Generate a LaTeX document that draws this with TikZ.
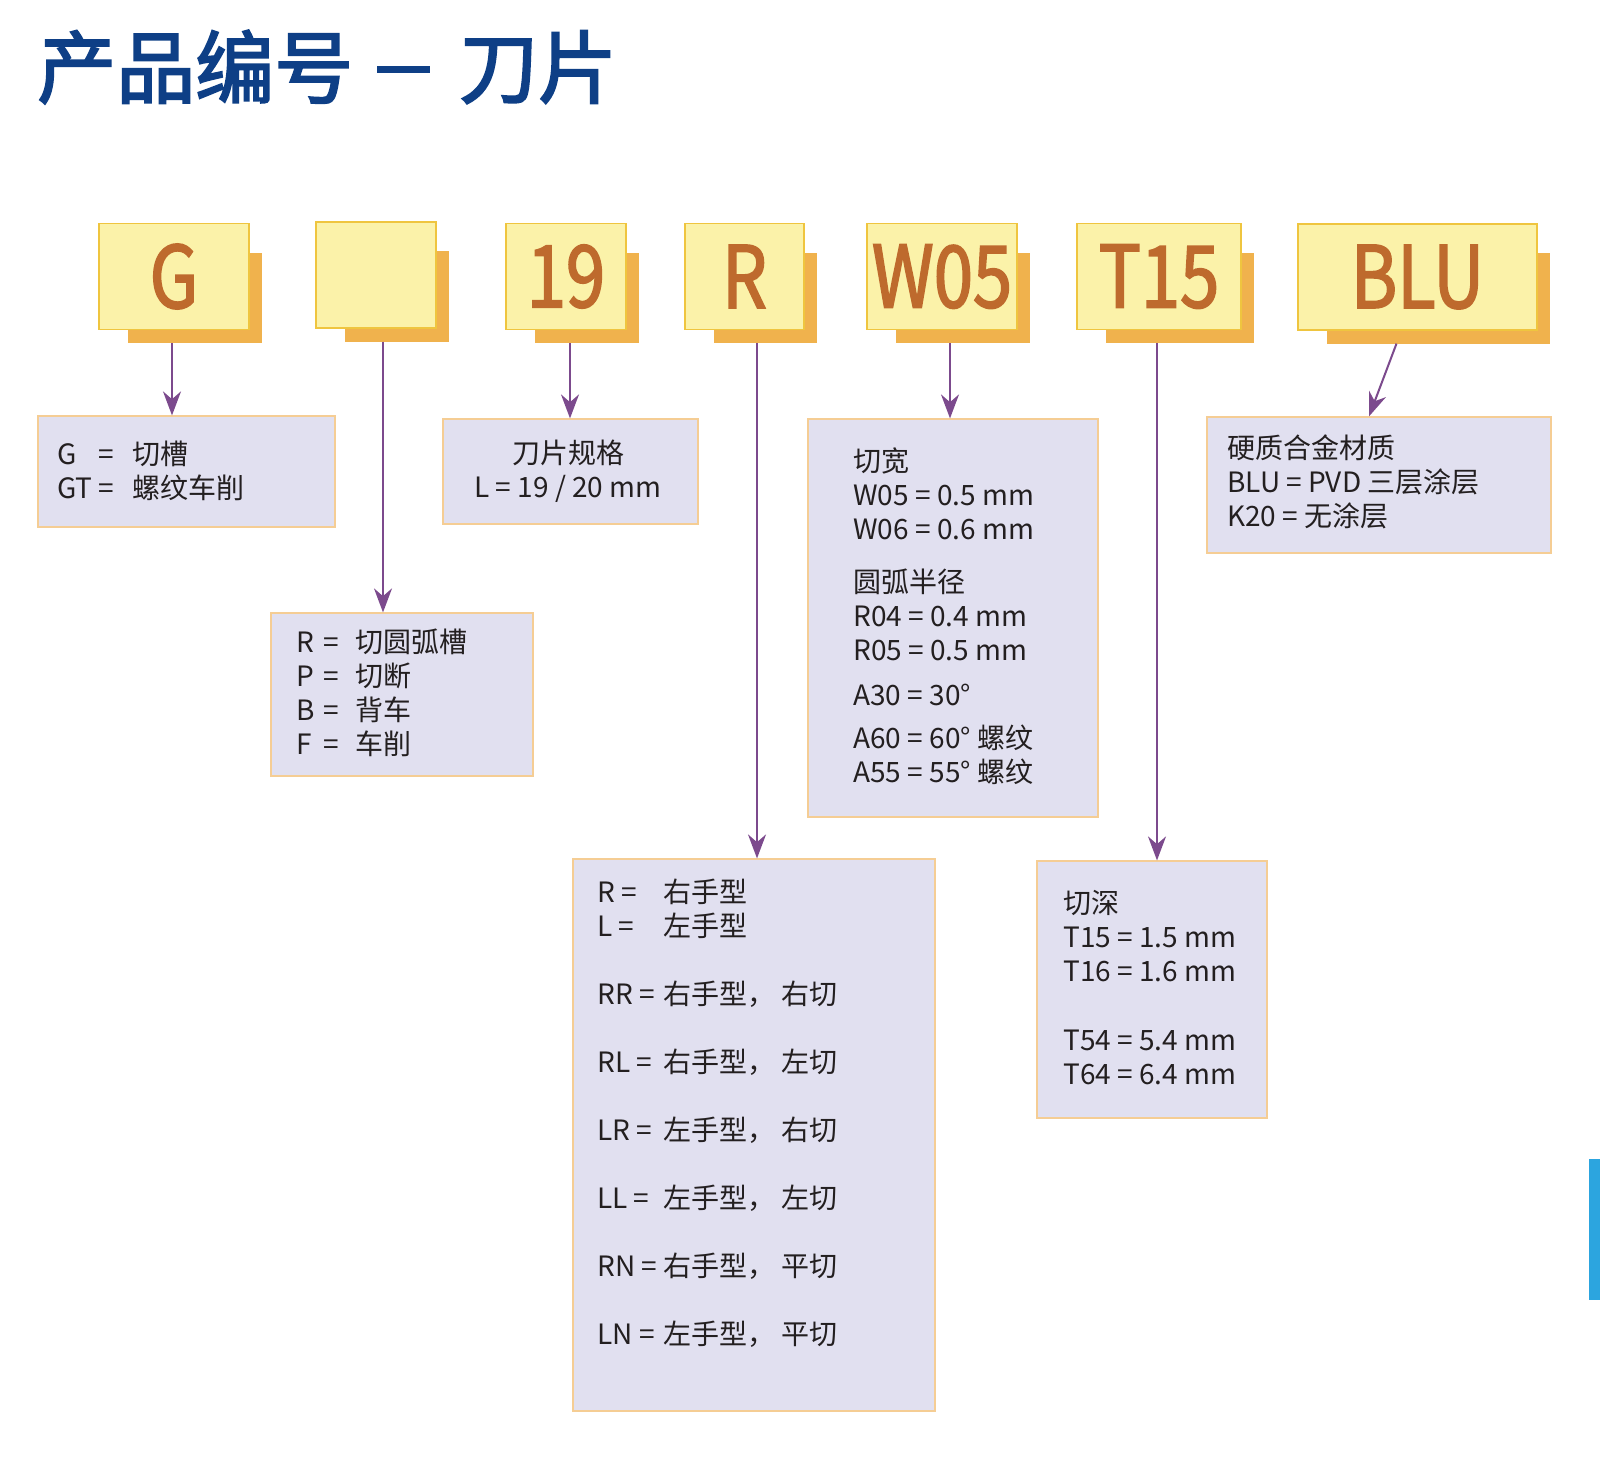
\documentclass[tikz,border=0pt]{standalone}
\usepackage{graphicx}
\usepackage{fontspec}
\setmainfont{Noto Sans CJK SC}
\newfontfamily\headfont{Noto Sans CJK SC}[FakeBold=2.5]
\newfontfamily\codefont{Noto Sans CJK SC}[FakeStretch=0.82, FakeBold=2]
\usetikzlibrary{positioning,arrows.meta,calc}
\pgfdeclarelayer{background}
\pgfsetlayers{background,main}

\newlength\pxu
\setlength\pxu{0.025cm}

\definecolor{titleblue}{HTML}{0E3F86}
\definecolor{codefill}{HTML}{FBF2A9}
\definecolor{codeline}{HTML}{EFC53F}
\definecolor{codetext}{HTML}{BE6A2D}
\definecolor{shadowfill}{HTML}{F0B24D}
\definecolor{descfill}{HTML}{E1E0F0}
\definecolor{descline}{HTML}{F5CD94}
\definecolor{linkpurple}{HTML}{7C4A8D}
\definecolor{sidebar}{HTML}{2CA5DF}
\definecolor{bodytext}{HTML}{231F20}

\tikzset{
  codebox/.style={draw=codeline, line width=1.2\pxu, fill=codefill, inner sep=0pt,
    minimum height=106\pxu, text=codetext,
    font=\codefont\fontsize{86\pxu}{86\pxu}\selectfont},
  descbox/.style={draw=descline, line width=1.2\pxu, fill=descfill, inner sep=0pt},
  desctext/.style={inner sep=0pt, anchor=base west, text=bodytext,
    font=\fontsize{28\pxu}{34\pxu}\selectfont},
  link/.style={draw=linkpurple, line width=0.05cm,
    -{Stealth[length=0.6cm, width=0.45cm]}},
}

\begin{document}
\begin{tikzpicture}[x=0.025cm, y=-0.025cm]
    \useasboundingbox (0,0) rectangle (1600,1472);

    % heading
    \node[anchor=base west, inner sep=0pt, text=titleblue,
      font=\headfont\fontsize{79\pxu}{79\pxu}\selectfont] (heading) at (37,97)
      {产品编号\hspace{0.3em}\rule[0.3em]{0.67em}{0.09em}\hspace{0.37em}刀片};

    % code boxes
    \node[codebox, minimum width=150\pxu] (groove) at (174,276.5) {G};
    \node[codebox, minimum width=120\pxu] (style) at (376,275) {};
    \node[codebox, minimum width=120\pxu] (size) at (566,276.5) {19};
    \node[codebox, minimum width=119\pxu] (hand) at (744.5,276.5) {R};
    \node[codebox, minimum width=150\pxu] (width) at (942,276.5) {W05};
    \node[codebox, minimum width=164\pxu] (depth) at (1159,276.5) {T15};
    \node[codebox, minimum width=239\pxu] (grade) at (1417.5,277) {BLU};

    \begin{pgfonlayer}{background}
        \fill[white] (0,0) rectangle (1600,1472);
        \foreach \n in {groove,style,size,hand,width,depth,grade}
            \fill[shadowfill] ($(\n.north west)+(30,30)$) rectangle ($(\n.south east)+(12,13)$);
    \end{pgfonlayer}

    % description boxes
    \node[descbox, minimum width=297\pxu, minimum height=111\pxu] (grooved) at (186.5,471.5) {};
    \node[descbox, minimum width=262\pxu, minimum height=163\pxu] (styled) at (402,694.5) {};
    \node[descbox, minimum width=255\pxu, minimum height=105\pxu] (sized) at (570.5,471.5) {};
    \node[descbox, minimum width=290\pxu, minimum height=398\pxu] (widthd) at (953,618) {};
    \node[descbox, minimum width=362\pxu, minimum height=552\pxu] (handd) at (754,1135) {};
    \node[descbox, minimum width=230\pxu, minimum height=257\pxu] (depthd) at (1152,989.5) {};
    \node[descbox, minimum width=344\pxu, minimum height=136\pxu] (graded) at (1379,485) {};

    % texts
    \node[desctext] (groovet) at (57,464) {%
      \begin{tabular}[t]{@{}p{41\pxu}@{}p{34\pxu}@{}l@{}}
        G & = & 切槽\\
        GT & = & 螺纹车削
      \end{tabular}};
    \node[desctext] (stylet) at (296,652) {%
      \begin{tabular}[t]{@{}p{27\pxu}@{}p{32\pxu}@{}l@{}}
        R & = & 切圆弧槽\\
        P & = & 切断\\
        B & = & 背车\\
        F & = & 车削
      \end{tabular}};
    \node[desctext, anchor=base] (sizet) at (568,463) {%
      \begin{tabular}[t]{@{}c@{}}
        刀片规格\\
        L = 19 / 20 mm
      \end{tabular}};
    \node[desctext] (widtht) at (853,471) {%
      \begin{tabular}[t]{@{}l@{}}
        切宽\\
        W05 = 0.5 mm\\
        W06 = 0.6 mm\\[19\pxu]
        圆弧半径\\
        R04 = 0.4 mm\\
        R05 = 0.5 mm\\[11\pxu]
        A30 = 30°\\[9\pxu]
        A60 = 60° 螺纹\\
        A55 = 55° 螺纹
      \end{tabular}};
    \node[desctext] (handt) at (597,902) {%
      \begin{tabular}[t]{@{}p{66\pxu}@{}l@{}}
        R = & 右手型\\
        L = & 左手型\\[34\pxu]
        RR = & 右手型， 右切\\[34\pxu]
        RL = & 右手型， 左切\\[34\pxu]
        LR = & 左手型， 右切\\[34\pxu]
        LL = & 左手型， 左切\\[34\pxu]
        RN = & 右手型， 平切\\[34\pxu]
        LN = & 左手型， 平切
      \end{tabular}};
    \node[desctext] (deptht) at (1063,913) {%
      \begin{tabular}[t]{@{}l@{}}
        切深\\
        T15 = 1.5 mm\\
        T16 = 1.6 mm\\[35\pxu]
        T54 = 5.4 mm\\
        T64 = 6.4 mm
      \end{tabular}};
    \node[desctext] (gradet) at (1227,458) {%
      \begin{tabular}[t]{@{}l@{}}
        硬质合金材质\\
        BLU = PVD 三层涂层\\
        K20 = 无涂层
      \end{tabular}};

    % connectors
    \draw[link] ($(groove.south)+(-2,13)$) -- ($(groove.south |- grooved.north)+(-2,0)$);
    \draw[link] ($(style.south)+(7,13)$) -- ($(style.south |- styled.north)+(7,0)$);
    \draw[link] ($(size.south)+(4,13)$) -- ($(size.south |- sized.north)+(4,0)$);
    \draw[link] ($(hand.south)+(12.5,13)$) -- ($(hand.south |- handd.north)+(12.5,0)$);
    \draw[link] ($(width.south)+(8,13)$) -- ($(width.south |- widthd.north)+(8,0)$);
    \draw[link] ($(depth.south)+(-2,13)$) -- ($(depth.south |- depthd.north)+(-2,0)$);
    \draw[link] ($(grade.south)+(-21,13)$) -- ($(graded.north)+(-10,0)$);

    % side mark
    \fill[sidebar] (1589,1159) rectangle (1600,1300);
\end{tikzpicture}
\end{document}
